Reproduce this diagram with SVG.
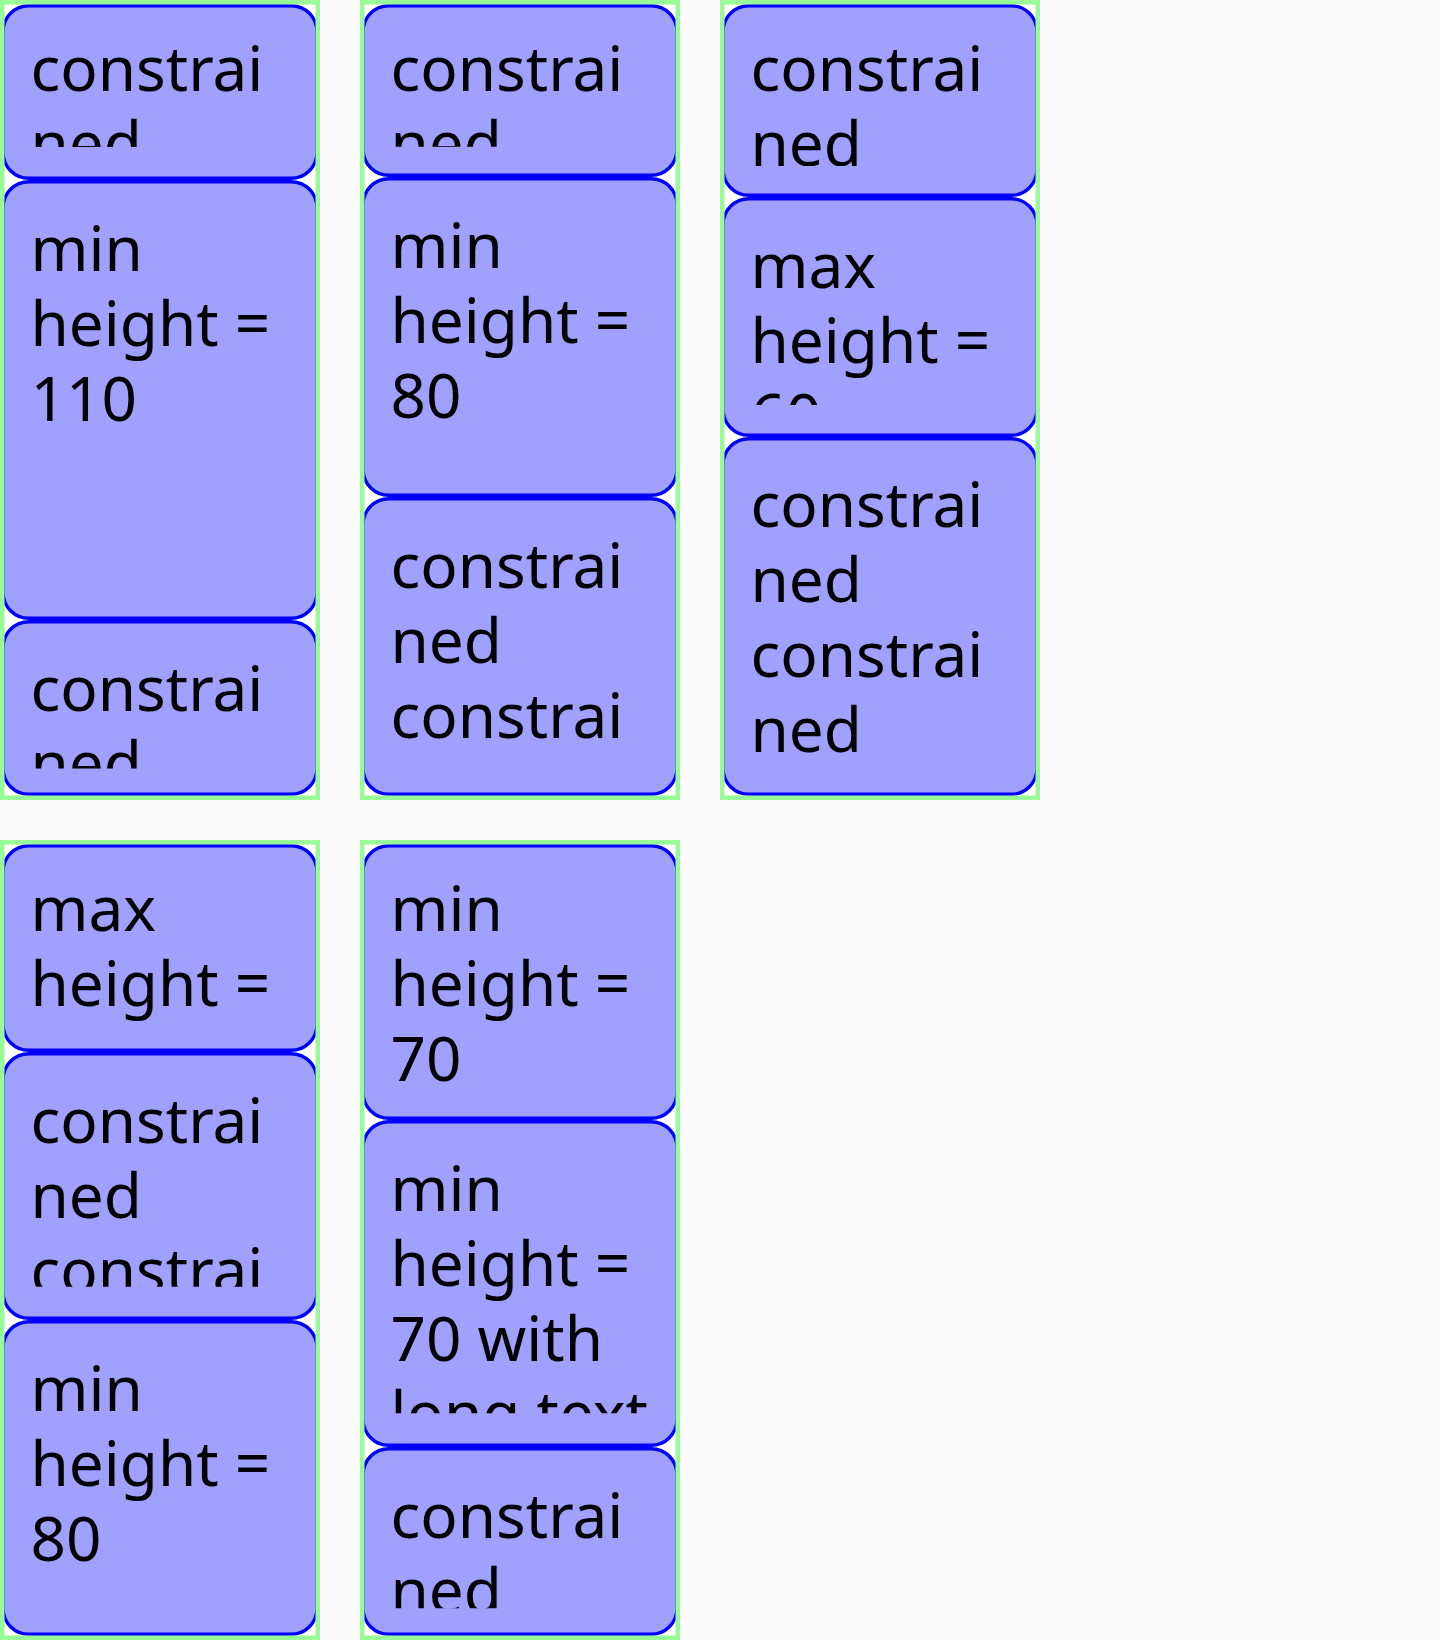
<svg xmlns="http://www.w3.org/2000/svg" width="1440" height="1640" viewBox="0 0 1440 1640">
<style>
.bg{fill:#fafafa}
.cont-fill{fill:#ffffff}
.cont-border{fill:none;stroke:#98fb98;stroke-width:4.5}
.box{fill:#a0a0ff;stroke:#0000ff;stroke-width:3.4}
.lbl{font-family:"Noto Sans","DejaVu Sans",sans-serif;font-size:62px;fill:#000000}
</style>
<defs>
<clipPath id="c11"><rect x="4" y="4" width="312" height="143"/></clipPath>
<clipPath id="c12"><rect x="4" y="184" width="312" height="404"/></clipPath>
<clipPath id="c13"><rect x="4" y="624" width="312" height="144.5"/></clipPath>
<clipPath id="c21"><rect x="364" y="4" width="312" height="142.7"/></clipPath>
<clipPath id="c22"><rect x="364" y="181" width="312" height="285"/></clipPath>
<clipPath id="c23"><rect x="364" y="501" width="312" height="268"/></clipPath>
<clipPath id="c31"><rect x="724" y="4" width="312" height="162"/></clipPath>
<clipPath id="c32"><rect x="724" y="201" width="312" height="204"/></clipPath>
<clipPath id="c33"><rect x="724" y="441" width="312" height="328"/></clipPath>
<clipPath id="c41"><rect x="4" y="844" width="312" height="177"/></clipPath>
<clipPath id="c42"><rect x="4" y="1056" width="312" height="230.7"/></clipPath>
<clipPath id="c43"><rect x="4" y="1324" width="312" height="285"/></clipPath>
<clipPath id="c51"><rect x="364" y="844" width="312" height="245"/></clipPath>
<clipPath id="c52"><rect x="364" y="1124" width="312" height="289.3"/></clipPath>
<clipPath id="c53"><rect x="364" y="1451" width="312" height="157.3"/></clipPath>
</defs>
<rect class="bg" x="0" y="0" width="1440" height="1640"/>

<g id="container-1">
<rect class="cont-fill" x="0" y="0" width="320" height="800"/>
<g id="node-1-1">
<rect class="box" x="3" y="5.7" width="314" height="172.6" rx="26"/>
<text class="lbl" clip-path="url(#c11)"><tspan x="30.5" y="90.7">constrai</tspan><tspan x="30.5" y="165.7">ned</tspan></text>
</g>
<g id="node-1-2">
<rect class="box" x="3" y="181.7" width="314" height="436.6" rx="26"/>
<text class="lbl" clip-path="url(#c12)"><tspan x="30.5" y="270.5">min</tspan><tspan x="30.5" y="345.5">height =</tspan><tspan x="30.5" y="420.5">110</tspan></text>
</g>
<g id="node-1-3">
<rect class="box" x="3" y="621.7" width="314" height="172.6" rx="26"/>
<text class="lbl" clip-path="url(#c13)"><tspan x="30.5" y="710.7">constrai</tspan><tspan x="30.5" y="785.7">ned</tspan></text>
</g>
<rect class="cont-border" x="2.25" y="2.25" width="315.5" height="795.5"/>
</g>

<g id="container-2">
<rect class="cont-fill" x="360" y="0" width="320" height="800"/>
<g id="node-2-1">
<rect class="box" x="363" y="5.7" width="314" height="169.6" rx="26"/>
<text class="lbl" clip-path="url(#c21)"><tspan x="390.5" y="90.7">constrai</tspan><tspan x="390.5" y="165.7">ned</tspan></text>
</g>
<g id="node-2-2">
<rect class="box" x="363" y="178.7" width="314" height="316.6" rx="26"/>
<text class="lbl" clip-path="url(#c22)"><tspan x="390.5" y="267.9">min</tspan><tspan x="390.5" y="342.9">height =</tspan><tspan x="390.5" y="417.9">80</tspan></text>
</g>
<g id="node-2-3">
<rect class="box" x="363" y="498.7" width="314" height="295.6" rx="26"/>
<text class="lbl" clip-path="url(#c23)"><tspan x="390.5" y="588.3">constrai</tspan><tspan x="390.5" y="663.3">ned</tspan><tspan x="390.5" y="738.3">constrai</tspan></text>
</g>
<rect class="cont-border" x="362.25" y="2.25" width="315.5" height="795.5"/>
</g>

<g id="container-3">
<rect class="cont-fill" x="720" y="0" width="320" height="800"/>
<g id="node-3-1">
<rect class="box" x="723" y="5.7" width="314" height="189.6" rx="26"/>
<text class="lbl" clip-path="url(#c31)"><tspan x="750.5" y="90.7">constrai</tspan><tspan x="750.5" y="165.7">ned</tspan></text>
</g>
<g id="node-3-2">
<rect class="box" x="723" y="198.7" width="314" height="236.6" rx="26"/>
<text class="lbl" clip-path="url(#c32)"><tspan x="750.5" y="287.5">max</tspan><tspan x="750.5" y="362.5">height =</tspan><tspan x="750.5" y="437.5">60</tspan></text>
</g>
<g id="node-3-3">
<rect class="box" x="723" y="438.7" width="314" height="355.6" rx="26"/>
<text class="lbl" clip-path="url(#c33)"><tspan x="750.5" y="527.2">constrai</tspan><tspan x="750.5" y="602.2">ned</tspan><tspan x="750.5" y="677.2">constrai</tspan><tspan x="750.5" y="752.2">ned</tspan></text>
</g>
<rect class="cont-border" x="722.25" y="2.25" width="315.5" height="795.5"/>
</g>

<g id="container-4">
<rect class="cont-fill" x="0" y="840" width="320" height="800"/>
<g id="node-4-1">
<rect class="box" x="3" y="845.7" width="314" height="204.6" rx="26"/>
<text class="lbl" clip-path="url(#c41)"><tspan x="30.5" y="930.5">max</tspan><tspan x="30.5" y="1005.5">height =</tspan></text>
</g>
<g id="node-4-2">
<rect class="box" x="3" y="1053.7" width="314" height="264.6" rx="26"/>
<text class="lbl" clip-path="url(#c42)"><tspan x="30.5" y="1142.7">constrai</tspan><tspan x="30.5" y="1217.7">ned</tspan><tspan x="30.5" y="1292.7">constrai</tspan></text>
</g>
<g id="node-4-3">
<rect class="box" x="3" y="1321.7" width="314" height="312.6" rx="26"/>
<text class="lbl" clip-path="url(#c43)"><tspan x="30.5" y="1410.7">min</tspan><tspan x="30.5" y="1485.7">height =</tspan><tspan x="30.5" y="1560.7">80</tspan></text>
</g>
<rect class="cont-border" x="2.25" y="842.25" width="315.5" height="795.5"/>
</g>

<g id="container-5">
<rect class="cont-fill" x="360" y="840" width="320" height="800"/>
<g id="node-5-1">
<rect class="box" x="363" y="845.7" width="314" height="272.6" rx="26"/>
<text class="lbl" clip-path="url(#c51)"><tspan x="390.5" y="930.5">min</tspan><tspan x="390.5" y="1005.5">height =</tspan><tspan x="390.5" y="1080.5">70</tspan></text>
</g>
<g id="node-5-2">
<rect class="box" x="363" y="1121.7" width="314" height="323.6" rx="26"/>
<text class="lbl" clip-path="url(#c52)"><tspan x="390.5" y="1210.7">min</tspan><tspan x="390.5" y="1285.7">height =</tspan><tspan x="390.5" y="1360.7">70 with</tspan><tspan x="390.5" y="1435.7">long text</tspan></text>
</g>
<g id="node-5-3">
<rect class="box" x="363" y="1448.7" width="314" height="185.6" rx="26"/>
<text class="lbl" clip-path="url(#c53)"><tspan x="390.5" y="1538.2">constrai</tspan><tspan x="390.5" y="1613.2">ned</tspan></text>
</g>
<rect class="cont-border" x="362.25" y="842.25" width="315.5" height="795.5"/>
</g>

<g id="connectors"/>
</svg>
